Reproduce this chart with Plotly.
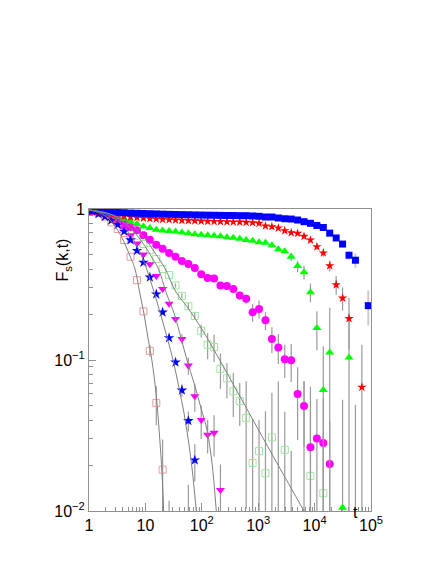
import plotly.graph_objects as go

# time grid (log-spaced samples)
t = [1.13, 1.47, 1.91, 2.48, 3.23, 4.20, 5.45, 7.09, 9.22, 12.0, 15.6, 20.2, 26.3, 34.2, 44.4,
     57.8, 75.1, 97.6, 127, 165, 214, 279, 362, 471, 612, 796, 1035, 1345, 1749, 2274, 2956,
     3843, 4996, 6494, 8443, 10975, 14268, 18548, 24113, 31346, 40750, 52975, 68868, 89528]

blue_sq = [0.975, 0.97, 0.962, 0.955, 0.95, 0.945, 0.94, 0.937, 0.934, 0.931,
           0.928, 0.925, 0.922, 0.92, 0.918, 0.916, 0.914, 0.912, 0.91, 0.909,
           0.907, 0.906, 0.905, 0.903, 0.903, 0.899, 0.895, 0.885, 0.885, 0.872,
           0.862, 0.858, 0.845, 0.824, 0.804, 0.778, 0.754, 0.692, 0.643, 0.586,
           0.494, 0.458, None, 0.229]
blue_sq_err = [0] * 33 + [0.006, 0.008, 0.01, 0.012, 0.015, 0.018, 0.02, 0.03, 0.05, 0, 0.06]

red_star = [0.96, 0.95, 0.935, 0.92, 0.905, 0.895, 0.885, 0.877, 0.87, 0.864,
            0.859, 0.854, 0.85, 0.846, 0.842, 0.838, 0.835, 0.832, 0.829, 0.827,
            0.825, 0.823, 0.821, 0.82, 0.816, 0.812, 0.804, 0.772, 0.764, 0.748,
            0.718, 0.697, 0.69, 0.659, 0.623, 0.563, 0.512, 0.421, 0.315, 0.257,
            0.188, None, 0.066, None]
red_star_err = [0] * 31 + [0.01, 0.012, 0.015, 0.02, 0.025, 0.03, 0.035, 0.045, 0.045, 0.07, 0, 0.06, 0]

green_tri = [0.97, 0.96, 0.945, 0.92, 0.89, 0.86, 0.825, 0.795, 0.765, 0.748,
             0.73, 0.72, 0.715, 0.71, 0.70, 0.69, 0.68, 0.676, 0.67, 0.665,
             0.66, 0.65, 0.645, 0.636, 0.623, 0.617, 0.602, 0.598, 0.575, 0.541,
             0.525, 0.483, 0.419, 0.381, 0.281, 0.163, 0.0632, 0.112, None, 0.0105,
             0.104]
green_tri_err = [0] * 28 + [0.015, 0.02, 0.02, 0.03, 0.036, 0.04, 0.04, 0.047, 0.06, 0.11, 0, 0.044, 0.1]

mag_circ = [0.97, 0.955, 0.93, 0.895, 0.858, 0.81, 0.76, 0.722, 0.67, 0.626,
            0.58, 0.546, 0.511, 0.483, 0.453, 0.432, 0.407, 0.37, 0.349, 0.346,
            0.312, 0.309, 0.295, 0.267, 0.254, 0.207, 0.218, 0.183, 0.138, 0.121,
            0.101, 0.0996, 0.0595, 0.0495, 0.0264, 0.0302, 0.0282, 0.0205]
mag_circ_err = [0] * 18 + [0.01, 0.01, 0.012, 0.012, 0.015, 0.015, 0.018, 0.028, 0.03, 0.025,
                           0.027, 0.027, 0.025, 0.028, 0.03, 0.023, 0.04, 0.025, 0.028, 0.019]

lg_sq = [0.975, 0.96, 0.94, 0.9, 0.85, 0.79, 0.72, 0.666, 0.586, 0.535,
         0.467, 0.40, 0.365, 0.312, 0.266, 0.227, 0.196, 0.156, 0.126, 0.122,
         0.0874, 0.0757, 0.062, 0.0535, 0.0413, 0.0208, 0.0249, 0.0178, 0.0307, None,
         0.0254, None, None, None, 0.0171, None, 0.0131]
lg_sq_err = [0] * 13 + [0.01, 0.01, 0.012, 0.012, 0.015, 0.025, 0.025, 0.023, 0.02, 0.02,
                        0.017, 0.031, 0.02, 0.015, 0.028, 0.03, 0, 0.02, 0, 0, 0, 0.03, 0, 0.02]

mag_tri = [0.97, 0.95, 0.92, 0.87, 0.81, 0.745, 0.67, 0.59, 0.50, 0.43,
           0.36, 0.295, 0.236, 0.187, 0.138, 0.092, 0.0575, 0.040, 0.032, 0.033, 0.0138]
mag_tri_err = [0] * 14 + [0.01, 0.012, 0.012, 0.01, 0.008, 0.01, 0.0065]

blue_star = [0.97, 0.927, 0.89, 0.84, 0.787, 0.711, 0.623, 0.53, 0.443, 0.353,
             0.273, 0.207, 0.14, 0.0965, 0.063, 0.0396, 0.0217]
blue_star_err = [0] * 14 + [0.006, 0.006, 0.006]

pink_sq = [0.975, 0.94, 0.89, 0.816, 0.737, 0.623, 0.483, 0.338, 0.21, 0.115, 0.052, 0.0188]
pink_sq_err = [0] * 9 + [0.01, 0.015, 0.011]

# points below the frame whose error bars still show
hid_t = [26.3, 57.8, 2274, 3843, 6494, 52975]
hid_f = [0.004, 0.004, 0.004, 0.004, 0.004, 0.004]
hid_up = [0.0077, 0.0109, 0.068, 0.021, 0.068, 0.0465]

# fitted curves
fit_pink_t = [1, 1.567, 2.263, 3.137, 4.174, 5.333, 6.461, 7.893, 9.445, 11.12, 13.09, 15.42, 17.93, 19.70, 21.11]
fit_pink_f = [0.985, 0.941, 0.859, 0.737, 0.605, 0.488, 0.407, 0.282, 0.2016, 0.1398, 0.0985, 0.0605, 0.0304, 0.01785, 0.01]
fit_bstar_t = [1, 1.567, 2.357, 3.545, 5.120, 7.393, 10.37, 14.21, 18.91, 24.45, 31.49, 39.42, 48.34, 56.92, 67.03, 79.9]
fit_bstar_f = [0.985, 0.955, 0.899, 0.808, 0.694, 0.552, 0.407, 0.282, 0.196, 0.1398, 0.097, 0.0653, 0.0446, 0.0304, 0.0193, 0.01]
fit_mtri_t = [1, 1.70, 2.776, 4.347, 6.542, 9.838, 13.09, 16.73, 23.86, 32.15, 42.78, 54.65, 72.7, 96.8, 123.7, 151.7, 180.7]
fit_mtri_f = [0.985, 0.955, 0.899, 0.808, 0.694, 0.569, 0.474, 0.407, 0.2736, 0.2048, 0.1398, 0.1, 0.0704, 0.0481, 0.0344, 0.0208, 0.01]
fit_lg_t = [1, 1.771, 3.268, 6.028, 10.25, 14.80, 21.99, 34.87, 56.92, 105.0, 193.8, 438.4, 992, 2245, 6488]
fit_lg_f = [0.985, 0.955, 0.885, 0.772, 0.623, 0.511, 0.407, 0.282, 0.221, 0.1556, 0.1047, 0.0605, 0.0349, 0.0202, 0.01]

fig = go.Figure()

def add_pts(y, err, symbol, color, size, ecolor='#9a9a9a', ethick=1.2, open_=False):
    n = len(y)
    marker = dict(symbol=symbol, size=size, color=color)
    if open_:
        marker['line'] = dict(color=color, width=1)
    else:
        marker['line'] = dict(width=0)
    fig.add_trace(go.Scatter(x=t[:n], y=y, mode='markers', marker=marker,
                             error_y=dict(type='data', array=err, color=ecolor,
                                          thickness=ethick, width=0),
                             showlegend=False))

# error bars only (their points fall below 10^-2)
fig.add_trace(go.Scatter(x=hid_t, y=hid_f, mode='markers',
                         marker=dict(size=1, color='rgba(0,0,0,0)'),
                         error_y=dict(type='data', array=hid_up, arrayminus=[0.0035] * len(hid_f),
                                      symmetric=False, color='#9a9a9a', thickness=1.2, width=0),
                         showlegend=False, hoverinfo='skip'))

add_pts(lg_sq, lg_sq_err, 'square-open', '#9be89b', 7, open_=True)
add_pts(pink_sq, pink_sq_err, 'square-open', '#f09a9a', 7, open_=True)
add_pts(mag_circ, mag_circ_err, 'circle', '#ff00ff', 8)
add_pts(green_tri, green_tri_err, 'triangle-up', '#00ff00', 8)
add_pts(mag_tri, mag_tri_err, 'triangle-down', '#ff00ff', 8)
add_pts(blue_star, blue_star_err, 'star', '#0000ff', 8)
add_pts(red_star, red_star_err, 'star', '#ff0000', 7)
add_pts(blue_sq, blue_sq_err, 'square', '#0000ff', 7, ecolor='#cccccc', ethick=2)

for fx, fy in [(fit_pink_t, fit_pink_f), (fit_bstar_t, fit_bstar_f),
               (fit_mtri_t, fit_mtri_f), (fit_lg_t, fit_lg_f)]:
    fig.add_trace(go.Scatter(x=fx, y=fy, mode='lines',
                             line=dict(color='#808080', width=1, shape='spline'),
                             showlegend=False, hoverinfo='skip'))

minor_x = [m * 10 ** k for k in range(5) for m in range(2, 10)]
minor_y = [m * 10 ** k for k in (-2, -1) for m in range(2, 10)]

fig.update_xaxes(type='log', range=[0, 5], showgrid=False, zeroline=False,
                 showline=True, linecolor='#909090', linewidth=1, mirror=True,
                 ticks='inside', ticklen=8, tickcolor='#909090',
                 tickvals=[1, 10, 100, 1e3, 1e4, 1e5],
                 ticktext=['1', '10', '10<sup>2</sup>', '10<sup>3</sup>', '10<sup>4</sup>', '10<sup>5</sup>'],
                 minor=dict(tickvals=minor_x, ticks='inside', ticklen=4, tickcolor='#909090'),
                 tickfont=dict(size=16))
fig.update_yaxes(type='log', range=[-2, 0], showgrid=False, zeroline=False,
                 showline=True, linecolor='#909090', linewidth=1, mirror=True,
                 ticks='inside', ticklen=7, tickcolor='#909090',
                 tickvals=[0.01, 0.1, 1],
                 ticktext=['10<sup>\u22122</sup>', '10<sup>\u22121</sup>', '1'],
                 minor=dict(tickvals=minor_y, ticks='inside', ticklen=4, tickcolor='#909090'),
                 tickfont=dict(size=16))

fig.add_annotation(text='F<sub>s</sub>(k,t)', xref='paper', yref='paper',
                   x=-0.13, y=0.91, textangle=-90, showarrow=False,
                   font=dict(size=16))
fig.add_annotation(text='t', xref='paper', yref='paper', x=0.962, y=-0.04,
                   showarrow=False, font=dict(size=16))

fig.update_layout(width=436, height=564, margin=dict(l=81, r=73, t=201, b=61),
                  paper_bgcolor='white', plot_bgcolor='white',
                  font=dict(family='Liberation Sans, Arial, sans-serif', color='black'))

fig.write_html("out.html")
